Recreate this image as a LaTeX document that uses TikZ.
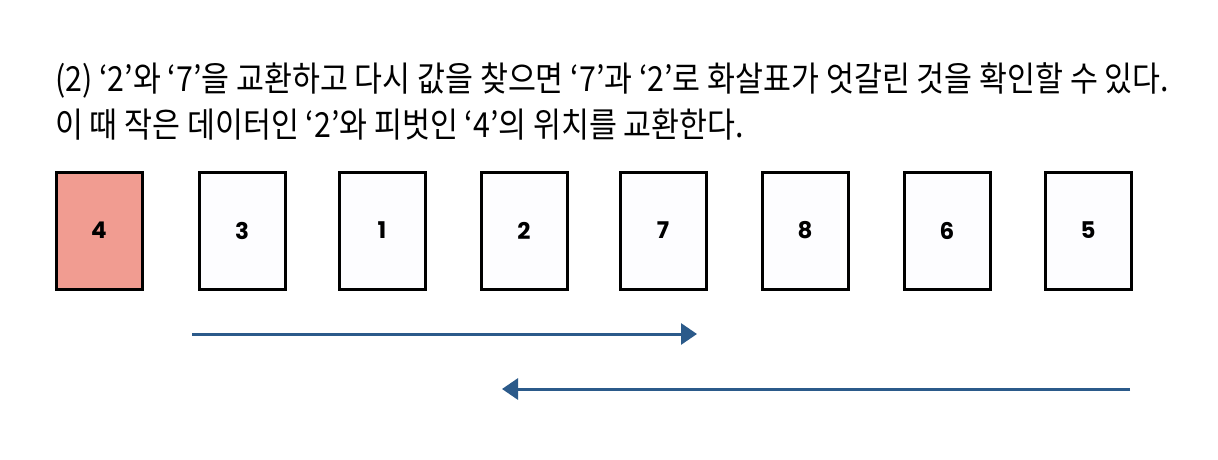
\documentclass[tikz,border=0pt]{standalone}
\usepackage{fontspec}
\newfontfamily\krfont[FakeStretch=0.88]{Noto Sans CJK KR}
\newfontfamily\cardfont{Poppins}
\usetikzlibrary{arrows.meta}

\definecolor{pivotred}{HTML}{F19C91}
\definecolor{cardwhite}{HTML}{FDFDFF}
\definecolor{arrowblue}{HTML}{2B5A8A}

\begin{document}
\begin{tikzpicture}[x=1pt, y=-1pt,
  card/.style={rectangle,draw=black,line width=3pt,fill=cardwhite,
    minimum width=86pt,minimum height=117pt,inner sep=0pt,
    font=\cardfont\bfseries\fontsize{23}{23}\selectfont},
  pivot/.style={card,fill=pivotred},
  line/.style={anchor=base west,inner sep=0pt,
    font=\krfont\fontsize{34.5}{34.5}\selectfont},
  scan/.style={draw=arrowblue,line width=3pt,-{Triangle[length=16pt,width=21pt]}}]
  \useasboundingbox (0,0) rectangle (1218,460);
  % text
  \node[line] (l1) at (55,92) {(2) ‘2’와 ‘7’을 교환하고 다시 값을 찾으면 ‘7’과 ‘2’로 화살표가 엇갈린 것을 확인할 수 있다.};
  \node[line] (l2) at (55,137) {이 때 작은 데이터인 ‘2’와 피벗인 ‘4’의 위치를 교환한다.};
  % cards
  \node[pivot] (c4) at (99,230.5) {4};
  \node[card] (c3) at (242,230.5) {3};
  \node[card] (c1) at (382,230.5) {1};
  \node[card] (c2) at (524,230.5) {2};
  \node[card] (c7) at (663,230.5) {7};
  \node[card] (c8) at (805,230.5) {8};
  \node[card] (c6) at (947,230.5) {6};
  \node[card] (c5) at (1088,230.5) {5};
  % scans
  \coordinate (lstart) at (192,334);
  \coordinate (lstop) at (697,334);
  \coordinate (rstart) at (1130,389);
  \coordinate (rstop) at (502,389);
  \draw[scan] (lstart) -- (lstop);
  \draw[scan] (rstart) -- (rstop);
\end{tikzpicture}
\end{document}
